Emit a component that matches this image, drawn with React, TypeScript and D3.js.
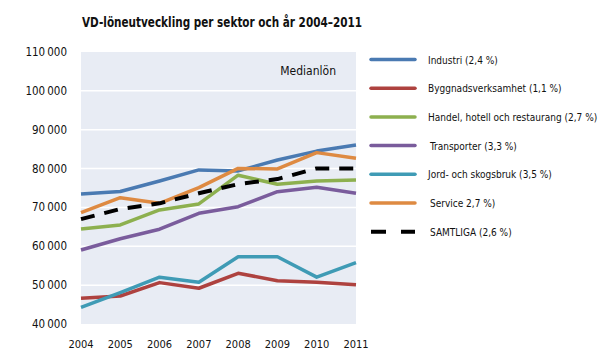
import React from "react";
import * as d3 from "d3";

const years = [2004, 2005, 2006, 2007, 2008, 2009, 2010, 2011];
const yTicks = [40000, 50000, 60000, 70000, 80000, 90000, 100000, 110000];

const industri = [73450, 74100, 76800, 79650, 79400, 82200, 84500, 86050];
const byggnads = [46600, 47200, 50650, 49200, 53050, 51150, 50750, 50100];
const handel = [64450, 65500, 69350, 70900, 78300, 75950, 76800, 77050];
const transporter = [59050, 61950, 64400, 68500, 70200, 74050, 75200, 73650];
const jord = [44300, 48050, 52050, 50750, 57300, 57300, 52050, 55800];
const service = [68650, 72500, 71050, 75100, 80050, 79900, 84100, 82650];
const samtliga = [67000, 69600, 71050, 73650, 76000, 77300, 80050, 80050];

const seriesNames = [
  "Industri (2,4 %)",
  "Byggnadsverksamhet (1,1 %)",
  "Handel, hotell och restaurang (2,7 %)",
  "Transporter (3,3 %)",
  "Jord- och skogsbruk (3,5 %)",
  "Service 2,7 %)",
  "SAMTLIGA (2,6 %)",
];
const seriesValues = [industri, byggnads, handel, transporter, jord, service, samtliga];
const seriesColors = ["#4A7AB2", "#AE423F", "#8DB04F", "#7A5C9C", "#3F9BB5", "#DE8A42", "#000000"];

const title = "VD-löneutveckling per sektor och år 2004–2011";
const subTitle = "Medianlön";

export default function App() {
  const W = 602, H = 360;
  const left = 81, right = 356, top = 52, bottom = 324;
  const x = d3.scalePoint<number>().domain(years).range([left, right]);
  const y = d3.scaleLinear().domain([40000, 110000]).range([bottom, top]);
  const line = d3
    .line<number>()
    .x((_, i) => x(years[i]) as number)
    .y((d) => y(d));
  const fmt = (v: number) => d3.format(",")(v).replace(",", "\u2009");
  const font = "'DejaVu Sans Condensed', 'Liberation Sans Narrow', Arial, sans-serif";
  const legendY = (i: number) => 59.5 + i * 28.7;

  return (
    <svg width={W} height={H} style={{ position: "absolute", left: 0, top: 0 }} fontFamily={font}>
      <rect x={0} y={0} width={W} height={H} fill="#fff" />
      <text x={82} y={27} fontSize={14.5} fontWeight="bold" fill="#111" textLength={280} lengthAdjust="spacingAndGlyphs">
        {title}
      </text>
      <rect x={left} y={top} width={right - left} height={bottom - top} fill="#E8ECF4" />
      {yTicks.slice(1, -1).map((t) => (
        <line key={t} x1={left} x2={right} y1={y(t)} y2={y(t)} stroke="#fff" strokeWidth={1.5} />
      ))}
      {yTicks.map((t) => (
        <text key={t} x={67} y={y(t) + 4} fontSize={11.5} textAnchor="end" fill="#111">
          {fmt(t)}
        </text>
      ))}
      {years.map((yr) => (
        <text key={yr} x={x(yr) as number} y={348} fontSize={11} textAnchor="middle" fill="#111">
          {yr}
        </text>
      ))}
      <text x={336} y={75} fontSize={12} textAnchor="end" fill="#111">
        {subTitle}
      </text>
      {seriesValues.map((vals, i) => (
        <path
          key={i}
          d={line(vals) || ""}
          fill="none"
          stroke={seriesColors[i]}
          strokeWidth={i === 6 ? 4 : 3.5}
          strokeDasharray={i === 6 ? "14 10" : undefined}
          strokeLinejoin="round"
        />
      ))}
      {seriesNames.map((n, i) => (
        <g key={n}>
          <line
            x1={371}
            x2={415}
            y1={legendY(i)}
            y2={legendY(i)}
            stroke={seriesColors[i]}
            strokeWidth={i === 6 ? 4 : 3.5}
            strokeDasharray={i === 6 ? "15 15" : undefined}
            strokeLinecap={i === 6 ? "butt" : "round"}
          />
          <text x={i === 3 || i === 5 || i === 6 ? 430 : 428} y={legendY(i) + 4} fontSize={10} fill="#111">
            {n}
          </text>
        </g>
      ))}
    </svg>
  );
}
